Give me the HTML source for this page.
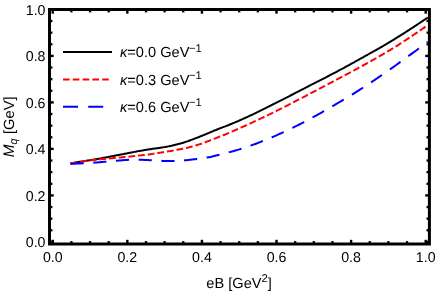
<!DOCTYPE html>
<html><head><meta charset="utf-8"><style>
html,body{margin:0;padding:0;background:#fff;}
svg{display:block;will-change:transform;text-rendering:geometricPrecision;font-family:"Liberation Sans",sans-serif;font-size:14.2px;fill:#000;}
</style></head><body>
<svg width="436" height="292" viewBox="0 0 436 292">
<rect width="436" height="292" fill="#fff"/>
<g fill="none" stroke-width="2">
<path d="M70.50 163.40 C70.83 163.34 71.83 163.17 72.50 163.05 C73.17 162.93 73.83 162.82 74.50 162.70 C75.17 162.59 75.83 162.48 76.50 162.36 C77.17 162.25 77.83 162.14 78.50 162.03 C79.17 161.91 79.83 161.80 80.50 161.69 C81.17 161.58 81.83 161.47 82.50 161.37 C83.17 161.26 83.83 161.15 84.50 161.04 C85.17 160.94 85.83 160.84 86.50 160.74 C87.17 160.63 87.83 160.53 88.50 160.43 C89.17 160.33 89.83 160.23 90.50 160.13 C91.17 160.02 91.83 159.92 92.50 159.81 C93.17 159.70 93.83 159.60 94.50 159.48 C95.17 159.37 95.83 159.26 96.50 159.14 C97.17 159.02 97.83 158.90 98.50 158.78 C99.17 158.66 99.83 158.54 100.50 158.41 C101.17 158.29 101.83 158.16 102.50 158.04 C103.17 157.91 103.83 157.79 104.50 157.66 C105.17 157.54 105.83 157.41 106.50 157.29 C107.17 157.16 107.83 157.03 108.50 156.91 C109.17 156.78 109.83 156.65 110.50 156.52 C111.17 156.39 111.83 156.26 112.50 156.13 C113.17 156.00 113.83 155.87 114.50 155.74 C115.17 155.61 115.83 155.48 116.50 155.35 C117.17 155.23 117.83 155.10 118.50 154.97 C119.17 154.85 119.83 154.72 120.50 154.60 C121.17 154.47 121.83 154.35 122.50 154.23 C123.17 154.10 123.83 153.97 124.50 153.85 C125.17 153.72 125.83 153.59 126.50 153.45 C127.17 153.32 127.83 153.19 128.50 153.05 C129.17 152.92 129.83 152.78 130.50 152.65 C131.17 152.51 131.83 152.38 132.50 152.25 C133.17 152.12 133.83 151.99 134.50 151.87 C135.17 151.74 135.83 151.62 136.50 151.50 C137.17 151.38 137.83 151.26 138.50 151.13 C139.17 151.01 139.83 150.90 140.50 150.78 C141.17 150.66 141.83 150.54 142.50 150.43 C143.17 150.31 143.83 150.20 144.50 150.09 C145.17 149.98 145.83 149.87 146.50 149.76 C147.17 149.65 147.83 149.55 148.50 149.44 C149.17 149.34 149.83 149.24 150.50 149.14 C151.17 149.05 151.83 148.95 152.50 148.86 C153.17 148.76 153.83 148.67 154.50 148.57 C155.17 148.48 155.83 148.39 156.50 148.30 C157.17 148.20 157.83 148.11 158.50 148.01 C159.17 147.92 159.83 147.82 160.50 147.72 C161.17 147.62 161.83 147.52 162.50 147.42 C163.17 147.32 163.83 147.23 164.50 147.12 C165.17 147.02 165.83 146.91 166.50 146.79 C167.17 146.67 167.83 146.54 168.50 146.39 C169.17 146.25 169.83 146.09 170.50 145.93 C171.17 145.77 171.83 145.59 172.50 145.43 C173.17 145.26 173.83 145.09 174.50 144.92 C175.17 144.76 175.83 144.60 176.50 144.44 C177.17 144.28 177.83 144.13 178.50 143.97 C179.17 143.81 179.83 143.65 180.50 143.48 C181.17 143.30 181.83 143.12 182.50 142.93 C183.17 142.73 183.83 142.52 184.50 142.31 C185.17 142.10 185.83 141.87 186.50 141.65 C187.17 141.42 187.83 141.19 188.50 140.95 C189.17 140.72 189.83 140.49 190.50 140.24 C191.17 140.00 191.83 139.75 192.50 139.50 C193.17 139.25 193.83 139.00 194.50 138.74 C195.17 138.49 195.83 138.23 196.50 137.97 C197.17 137.72 197.83 137.46 198.50 137.20 C199.17 136.93 199.83 136.67 200.50 136.40 C201.17 136.14 201.83 135.87 202.50 135.60 C203.17 135.33 203.83 135.05 204.50 134.78 C205.17 134.50 205.83 134.22 206.50 133.94 C207.17 133.65 207.83 133.37 208.50 133.08 C209.17 132.80 209.83 132.51 210.50 132.23 C211.17 131.94 211.83 131.66 212.50 131.37 C213.17 131.09 213.83 130.81 214.50 130.54 C215.17 130.26 215.83 129.99 216.50 129.72 C217.17 129.45 217.83 129.19 218.50 128.93 C219.17 128.67 219.83 128.42 220.50 128.16 C221.17 127.91 221.83 127.66 222.50 127.41 C223.17 127.16 223.83 126.91 224.50 126.65 C225.17 126.40 225.83 126.15 226.50 125.89 C227.17 125.63 227.83 125.37 228.50 125.11 C229.17 124.84 229.83 124.57 230.50 124.29 C231.17 124.02 231.83 123.74 232.50 123.46 C233.17 123.19 233.83 122.90 234.50 122.62 C235.17 122.34 235.83 122.05 236.50 121.77 C237.17 121.48 237.83 121.19 238.50 120.90 C239.17 120.61 239.83 120.31 240.50 120.02 C241.17 119.72 241.83 119.43 242.50 119.13 C243.17 118.83 243.83 118.53 244.50 118.23 C245.17 117.93 245.83 117.62 246.50 117.32 C247.17 117.02 247.83 116.71 248.50 116.40 C249.17 116.10 249.83 115.79 250.50 115.48 C251.17 115.17 251.83 114.85 252.50 114.54 C253.17 114.22 253.83 113.90 254.50 113.58 C255.17 113.26 255.83 112.94 256.50 112.62 C257.17 112.29 257.83 111.97 258.50 111.64 C259.17 111.31 259.83 110.98 260.50 110.65 C261.17 110.32 261.83 109.99 262.50 109.66 C263.17 109.32 263.83 108.99 264.50 108.66 C265.17 108.32 265.83 107.99 266.50 107.66 C267.17 107.32 267.83 106.99 268.50 106.65 C269.17 106.32 269.83 105.99 270.50 105.65 C271.17 105.32 271.83 104.99 272.50 104.65 C273.17 104.32 273.83 103.99 274.50 103.65 C275.17 103.31 275.83 102.98 276.50 102.64 C277.17 102.30 277.83 101.97 278.50 101.63 C279.17 101.29 279.83 100.95 280.50 100.61 C281.17 100.28 281.83 99.94 282.50 99.60 C283.17 99.26 283.83 98.92 284.50 98.58 C285.17 98.24 285.83 97.90 286.50 97.55 C287.17 97.21 287.83 96.87 288.50 96.53 C289.17 96.19 289.83 95.85 290.50 95.51 C291.17 95.17 291.83 94.83 292.50 94.49 C293.17 94.14 293.83 93.80 294.50 93.46 C295.17 93.12 295.83 92.77 296.50 92.43 C297.17 92.08 297.83 91.74 298.50 91.40 C299.17 91.05 299.83 90.71 300.50 90.36 C301.17 90.02 301.83 89.68 302.50 89.33 C303.17 88.99 303.83 88.64 304.50 88.30 C305.17 87.95 305.83 87.61 306.50 87.27 C307.17 86.92 307.83 86.58 308.50 86.23 C309.17 85.89 309.83 85.55 310.50 85.20 C311.17 84.86 311.83 84.52 312.50 84.18 C313.17 83.83 313.83 83.49 314.50 83.15 C315.17 82.81 315.83 82.47 316.50 82.13 C317.17 81.79 317.83 81.45 318.50 81.11 C319.17 80.77 319.83 80.43 320.50 80.09 C321.17 79.75 321.83 79.41 322.50 79.07 C323.17 78.73 323.83 78.39 324.50 78.05 C325.17 77.71 325.83 77.36 326.50 77.02 C327.17 76.68 327.83 76.34 328.50 75.99 C329.17 75.65 329.83 75.30 330.50 74.96 C331.17 74.61 331.83 74.26 332.50 73.91 C333.17 73.57 333.83 73.22 334.50 72.86 C335.17 72.51 335.83 72.16 336.50 71.81 C337.17 71.45 337.83 71.10 338.50 70.74 C339.17 70.39 339.83 70.03 340.50 69.67 C341.17 69.31 341.83 68.95 342.50 68.60 C343.17 68.24 343.83 67.87 344.50 67.51 C345.17 67.15 345.83 66.79 346.50 66.43 C347.17 66.06 347.83 65.70 348.50 65.33 C349.17 64.97 349.83 64.60 350.50 64.24 C351.17 63.87 351.83 63.50 352.50 63.14 C353.17 62.77 353.83 62.40 354.50 62.03 C355.17 61.67 355.83 61.30 356.50 60.93 C357.17 60.56 357.83 60.19 358.50 59.82 C359.17 59.45 359.83 59.08 360.50 58.70 C361.17 58.33 361.83 57.96 362.50 57.59 C363.17 57.22 363.83 56.85 364.50 56.48 C365.17 56.11 365.83 55.74 366.50 55.37 C367.17 55.00 367.83 54.62 368.50 54.25 C369.17 53.88 369.83 53.51 370.50 53.14 C371.17 52.76 371.83 52.39 372.50 52.02 C373.17 51.64 373.83 51.27 374.50 50.89 C375.17 50.51 375.83 50.14 376.50 49.76 C377.17 49.38 377.83 49.00 378.50 48.62 C379.17 48.24 379.83 47.86 380.50 47.48 C381.17 47.09 381.83 46.71 382.50 46.33 C383.17 45.94 383.83 45.55 384.50 45.16 C385.17 44.77 385.83 44.38 386.50 43.99 C387.17 43.60 387.83 43.20 388.50 42.81 C389.17 42.41 389.83 42.01 390.50 41.61 C391.17 41.21 391.83 40.81 392.50 40.40 C393.17 39.99 393.83 39.59 394.50 39.18 C395.17 38.76 395.83 38.35 396.50 37.94 C397.17 37.52 397.83 37.10 398.50 36.69 C399.17 36.27 399.83 35.85 400.50 35.43 C401.17 35.00 401.83 34.58 402.50 34.16 C403.17 33.73 403.83 33.30 404.50 32.88 C405.17 32.45 405.83 32.02 406.50 31.59 C407.17 31.17 407.83 30.74 408.50 30.31 C409.17 29.88 409.83 29.45 410.50 29.01 C411.17 28.58 411.83 28.15 412.50 27.72 C413.17 27.28 413.83 26.85 414.50 26.41 C415.17 25.97 415.83 25.54 416.50 25.10 C417.17 24.66 417.83 24.22 418.50 23.77 C419.17 23.33 419.83 22.89 420.50 22.44 C421.17 22.00 421.83 21.55 422.50 21.11 C423.17 20.66 423.83 20.21 424.50 19.76 C425.17 19.31 425.95 18.78 426.50 18.41 C427.05 18.04 427.58 17.67 427.80 17.53" stroke="#000"/>
<path d="M70.50 163.40 C70.83 163.34 71.83 163.16 72.50 163.04 C73.17 162.92 73.83 162.80 74.50 162.69 C75.17 162.57 75.83 162.46 76.50 162.35 C77.17 162.24 77.83 162.13 78.50 162.03 C79.17 161.92 79.83 161.82 80.50 161.72 C81.17 161.62 81.83 161.52 82.50 161.43 C83.17 161.33 83.83 161.24 84.50 161.15 C85.17 161.06 85.83 160.97 86.50 160.88 C87.17 160.79 87.83 160.71 88.50 160.62 C89.17 160.54 89.83 160.46 90.50 160.38 C91.17 160.29 91.83 160.22 92.50 160.14 C93.17 160.06 93.83 159.98 94.50 159.91 C95.17 159.83 95.83 159.76 96.50 159.69 C97.17 159.62 97.83 159.55 98.50 159.48 C99.17 159.42 99.83 159.35 100.50 159.28 C101.17 159.22 101.83 159.16 102.50 159.09 C103.17 159.03 103.83 158.97 104.50 158.90 C105.17 158.84 105.83 158.78 106.50 158.72 C107.17 158.65 107.83 158.59 108.50 158.53 C109.17 158.47 109.83 158.40 110.50 158.34 C111.17 158.28 111.83 158.21 112.50 158.15 C113.17 158.09 113.83 158.03 114.50 157.97 C115.17 157.91 115.83 157.85 116.50 157.79 C117.17 157.73 117.83 157.67 118.50 157.60 C119.17 157.54 119.83 157.48 120.50 157.42 C121.17 157.36 121.83 157.30 122.50 157.23 C123.17 157.17 123.83 157.10 124.50 157.04 C125.17 156.97 125.83 156.90 126.50 156.83 C127.17 156.77 127.83 156.70 128.50 156.63 C129.17 156.57 129.83 156.50 130.50 156.43 C131.17 156.36 131.83 156.29 132.50 156.23 C133.17 156.16 133.83 156.09 134.50 156.02 C135.17 155.95 135.83 155.88 136.50 155.81 C137.17 155.73 137.83 155.66 138.50 155.59 C139.17 155.52 139.83 155.44 140.50 155.37 C141.17 155.29 141.83 155.22 142.50 155.14 C143.17 155.06 143.83 154.99 144.50 154.91 C145.17 154.83 145.83 154.75 146.50 154.66 C147.17 154.58 147.83 154.50 148.50 154.41 C149.17 154.33 149.83 154.24 150.50 154.15 C151.17 154.06 151.83 153.97 152.50 153.88 C153.17 153.78 153.83 153.68 154.50 153.58 C155.17 153.48 155.83 153.37 156.50 153.27 C157.17 153.16 157.83 153.05 158.50 152.95 C159.17 152.84 159.83 152.73 160.50 152.62 C161.17 152.51 161.83 152.40 162.50 152.29 C163.17 152.19 163.83 152.08 164.50 151.97 C165.17 151.86 165.83 151.75 166.50 151.64 C167.17 151.53 167.83 151.42 168.50 151.31 C169.17 151.19 169.83 151.08 170.50 150.96 C171.17 150.85 171.83 150.73 172.50 150.61 C173.17 150.50 173.83 150.38 174.50 150.25 C175.17 150.13 175.83 150.01 176.50 149.89 C177.17 149.76 177.83 149.64 178.50 149.52 C179.17 149.40 179.83 149.27 180.50 149.15 C181.17 149.02 181.83 148.90 182.50 148.77 C183.17 148.64 183.83 148.51 184.50 148.37 C185.17 148.23 185.83 148.09 186.50 147.95 C187.17 147.80 187.83 147.65 188.50 147.49 C189.17 147.34 189.83 147.17 190.50 147.00 C191.17 146.83 191.83 146.65 192.50 146.47 C193.17 146.28 193.83 146.09 194.50 145.89 C195.17 145.69 195.83 145.48 196.50 145.27 C197.17 145.06 197.83 144.84 198.50 144.62 C199.17 144.40 199.83 144.17 200.50 143.94 C201.17 143.70 201.83 143.47 202.50 143.23 C203.17 142.99 203.83 142.74 204.50 142.50 C205.17 142.25 205.83 142.00 206.50 141.75 C207.17 141.50 207.83 141.25 208.50 140.99 C209.17 140.74 209.83 140.48 210.50 140.23 C211.17 139.97 211.83 139.71 212.50 139.46 C213.17 139.20 213.83 138.95 214.50 138.69 C215.17 138.44 215.83 138.19 216.50 137.93 C217.17 137.67 217.83 137.42 218.50 137.16 C219.17 136.90 219.83 136.63 220.50 136.36 C221.17 136.10 221.83 135.83 222.50 135.55 C223.17 135.28 223.83 135.01 224.50 134.73 C225.17 134.45 225.83 134.17 226.50 133.89 C227.17 133.61 227.83 133.33 228.50 133.05 C229.17 132.76 229.83 132.48 230.50 132.19 C231.17 131.91 231.83 131.62 232.50 131.33 C233.17 131.04 233.83 130.75 234.50 130.46 C235.17 130.17 235.83 129.88 236.50 129.59 C237.17 129.30 237.83 129.01 238.50 128.71 C239.17 128.42 239.83 128.13 240.50 127.83 C241.17 127.53 241.83 127.24 242.50 126.94 C243.17 126.64 243.83 126.34 244.50 126.04 C245.17 125.74 245.83 125.44 246.50 125.14 C247.17 124.84 247.83 124.53 248.50 124.23 C249.17 123.92 249.83 123.62 250.50 123.31 C251.17 123.01 251.83 122.70 252.50 122.39 C253.17 122.08 253.83 121.77 254.50 121.46 C255.17 121.15 255.83 120.84 256.50 120.53 C257.17 120.22 257.83 119.91 258.50 119.59 C259.17 119.28 259.83 118.96 260.50 118.65 C261.17 118.33 261.83 118.02 262.50 117.70 C263.17 117.39 263.83 117.07 264.50 116.75 C265.17 116.43 265.83 116.11 266.50 115.79 C267.17 115.47 267.83 115.15 268.50 114.83 C269.17 114.51 269.83 114.19 270.50 113.87 C271.17 113.54 271.83 113.22 272.50 112.90 C273.17 112.57 273.83 112.24 274.50 111.91 C275.17 111.58 275.83 111.25 276.50 110.92 C277.17 110.59 277.83 110.25 278.50 109.92 C279.17 109.58 279.83 109.24 280.50 108.91 C281.17 108.57 281.83 108.23 282.50 107.89 C283.17 107.55 283.83 107.21 284.50 106.87 C285.17 106.53 285.83 106.19 286.50 105.85 C287.17 105.51 287.83 105.17 288.50 104.83 C289.17 104.48 289.83 104.14 290.50 103.80 C291.17 103.46 291.83 103.12 292.50 102.78 C293.17 102.43 293.83 102.09 294.50 101.75 C295.17 101.40 295.83 101.06 296.50 100.71 C297.17 100.36 297.83 100.02 298.50 99.67 C299.17 99.33 299.83 98.98 300.50 98.63 C301.17 98.28 301.83 97.94 302.50 97.59 C303.17 97.24 303.83 96.89 304.50 96.54 C305.17 96.20 305.83 95.85 306.50 95.50 C307.17 95.15 307.83 94.80 308.50 94.45 C309.17 94.10 309.83 93.76 310.50 93.41 C311.17 93.06 311.83 92.71 312.50 92.36 C313.17 92.01 313.83 91.66 314.50 91.31 C315.17 90.96 315.83 90.61 316.50 90.26 C317.17 89.91 317.83 89.56 318.50 89.21 C319.17 88.86 319.83 88.51 320.50 88.16 C321.17 87.81 321.83 87.46 322.50 87.11 C323.17 86.76 323.83 86.41 324.50 86.06 C325.17 85.71 325.83 85.36 326.50 85.00 C327.17 84.65 327.83 84.30 328.50 83.95 C329.17 83.60 329.83 83.24 330.50 82.89 C331.17 82.54 331.83 82.18 332.50 81.83 C333.17 81.48 333.83 81.13 334.50 80.77 C335.17 80.42 335.83 80.06 336.50 79.71 C337.17 79.36 337.83 79.00 338.50 78.65 C339.17 78.30 339.83 77.94 340.50 77.59 C341.17 77.24 341.83 76.89 342.50 76.53 C343.17 76.18 343.83 75.83 344.50 75.47 C345.17 75.12 345.83 74.77 346.50 74.41 C347.17 74.06 347.83 73.70 348.50 73.35 C349.17 72.99 349.83 72.64 350.50 72.28 C351.17 71.93 351.83 71.57 352.50 71.21 C353.17 70.85 353.83 70.49 354.50 70.13 C355.17 69.77 355.83 69.41 356.50 69.05 C357.17 68.69 357.83 68.32 358.50 67.96 C359.17 67.59 359.83 67.23 360.50 66.86 C361.17 66.49 361.83 66.13 362.50 65.76 C363.17 65.39 363.83 65.02 364.50 64.65 C365.17 64.29 365.83 63.92 366.50 63.55 C367.17 63.18 367.83 62.81 368.50 62.44 C369.17 62.07 369.83 61.70 370.50 61.33 C371.17 60.95 371.83 60.58 372.50 60.21 C373.17 59.83 373.83 59.46 374.50 59.08 C375.17 58.71 375.83 58.33 376.50 57.95 C377.17 57.57 377.83 57.19 378.50 56.81 C379.17 56.43 379.83 56.05 380.50 55.66 C381.17 55.28 381.83 54.90 382.50 54.51 C383.17 54.12 383.83 53.73 384.50 53.34 C385.17 52.95 385.83 52.56 386.50 52.16 C387.17 51.77 387.83 51.37 388.50 50.97 C389.17 50.57 389.83 50.17 390.50 49.77 C391.17 49.36 391.83 48.96 392.50 48.55 C393.17 48.14 393.83 47.73 394.50 47.31 C395.17 46.90 395.83 46.48 396.50 46.06 C397.17 45.65 397.83 45.22 398.50 44.80 C399.17 44.38 399.83 43.95 400.50 43.53 C401.17 43.10 401.83 42.67 402.50 42.24 C403.17 41.81 403.83 41.38 404.50 40.94 C405.17 40.51 405.83 40.07 406.50 39.63 C407.17 39.20 407.83 38.76 408.50 38.32 C409.17 37.88 409.83 37.43 410.50 36.99 C411.17 36.55 411.83 36.10 412.50 35.65 C413.17 35.21 413.83 34.76 414.50 34.30 C415.17 33.85 415.83 33.40 416.50 32.94 C417.17 32.49 417.83 32.03 418.50 31.57 C419.17 31.11 419.83 30.65 420.50 30.18 C421.17 29.72 421.83 29.25 422.50 28.79 C423.17 28.32 423.83 27.85 424.50 27.38 C425.17 26.91 425.95 26.35 426.50 25.96 C427.05 25.57 427.58 25.18 427.80 25.03" stroke="#f00" stroke-dasharray="6.8 2.92"/>
<path d="M70.50 163.80 C70.83 163.79 71.83 163.76 72.50 163.74 C73.17 163.72 73.83 163.69 74.50 163.67 C75.17 163.64 75.83 163.62 76.50 163.59 C77.17 163.56 77.83 163.54 78.50 163.51 C79.17 163.48 79.83 163.45 80.50 163.42 C81.17 163.39 81.83 163.36 82.50 163.32 C83.17 163.29 83.83 163.26 84.50 163.23 C85.17 163.19 85.83 163.16 86.50 163.12 C87.17 163.08 87.83 163.04 88.50 163.00 C89.17 162.96 89.83 162.92 90.50 162.88 C91.17 162.83 91.83 162.79 92.50 162.74 C93.17 162.70 93.83 162.65 94.50 162.60 C95.17 162.55 95.83 162.51 96.50 162.46 C97.17 162.41 97.83 162.36 98.50 162.31 C99.17 162.26 99.83 162.21 100.50 162.16 C101.17 162.11 101.83 162.06 102.50 162.01 C103.17 161.96 103.83 161.91 104.50 161.85 C105.17 161.80 105.83 161.75 106.50 161.69 C107.17 161.64 107.83 161.58 108.50 161.53 C109.17 161.47 109.83 161.42 110.50 161.36 C111.17 161.30 111.83 161.24 112.50 161.18 C113.17 161.12 113.83 161.05 114.50 160.99 C115.17 160.93 115.83 160.86 116.50 160.80 C117.17 160.74 117.83 160.68 118.50 160.62 C119.17 160.57 119.83 160.52 120.50 160.46 C121.17 160.40 121.83 160.34 122.50 160.28 C123.17 160.22 123.83 160.15 124.50 160.10 C125.17 160.04 125.83 159.98 126.50 159.93 C127.17 159.89 127.83 159.85 128.50 159.83 C129.17 159.81 129.83 159.80 130.50 159.80 C131.17 159.80 131.83 159.80 132.50 159.80 C133.17 159.80 133.83 159.80 134.50 159.80 C135.17 159.80 135.83 159.80 136.50 159.80 C137.17 159.80 137.83 159.80 138.50 159.80 C139.17 159.80 139.83 159.80 140.50 159.80 C141.17 159.81 141.83 159.82 142.50 159.84 C143.17 159.86 143.83 159.89 144.50 159.92 C145.17 159.95 145.83 159.98 146.50 160.02 C147.17 160.05 147.83 160.09 148.50 160.12 C149.17 160.16 149.83 160.19 150.50 160.23 C151.17 160.26 151.83 160.30 152.50 160.34 C153.17 160.38 153.83 160.43 154.50 160.48 C155.17 160.52 155.83 160.57 156.50 160.61 C157.17 160.65 157.83 160.69 158.50 160.73 C159.17 160.76 159.83 160.79 160.50 160.82 C161.17 160.85 161.83 160.88 162.50 160.90 C163.17 160.93 163.83 160.96 164.50 160.98 C165.17 161.01 165.83 161.03 166.50 161.05 C167.17 161.07 167.83 161.08 168.50 161.09 C169.17 161.10 169.83 161.10 170.50 161.10 C171.17 161.10 171.83 161.09 172.50 161.07 C173.17 161.06 173.83 161.04 174.50 161.02 C175.17 161.01 175.83 160.98 176.50 160.96 C177.17 160.93 177.83 160.91 178.50 160.88 C179.17 160.84 179.83 160.79 180.50 160.74 C181.17 160.68 181.83 160.62 182.50 160.55 C183.17 160.49 183.83 160.41 184.50 160.35 C185.17 160.28 185.83 160.22 186.50 160.15 C187.17 160.09 187.83 160.02 188.50 159.95 C189.17 159.88 189.83 159.81 190.50 159.73 C191.17 159.66 191.83 159.58 192.50 159.50 C193.17 159.43 193.83 159.34 194.50 159.26 C195.17 159.18 195.83 159.10 196.50 159.01 C197.17 158.93 197.83 158.85 198.50 158.76 C199.17 158.67 199.83 158.59 200.50 158.50 C201.17 158.41 201.83 158.31 202.50 158.22 C203.17 158.12 203.83 158.02 204.50 157.92 C205.17 157.82 205.83 157.72 206.50 157.61 C207.17 157.50 207.83 157.39 208.50 157.27 C209.17 157.15 209.83 157.04 210.50 156.90 C211.17 156.77 211.83 156.63 212.50 156.48 C213.17 156.33 213.83 156.16 214.50 155.99 C215.17 155.83 215.83 155.65 216.50 155.47 C217.17 155.30 217.83 155.12 218.50 154.94 C219.17 154.76 219.83 154.58 220.50 154.40 C221.17 154.23 221.83 154.06 222.50 153.89 C223.17 153.72 223.83 153.55 224.50 153.39 C225.17 153.22 225.83 153.06 226.50 152.89 C227.17 152.72 227.83 152.56 228.50 152.39 C229.17 152.22 229.83 152.05 230.50 151.88 C231.17 151.71 231.83 151.53 232.50 151.35 C233.17 151.18 233.83 150.99 234.50 150.81 C235.17 150.62 235.83 150.43 236.50 150.23 C237.17 150.04 237.83 149.84 238.50 149.63 C239.17 149.43 239.83 149.23 240.50 149.02 C241.17 148.81 241.83 148.60 242.50 148.38 C243.17 148.17 243.83 147.95 244.50 147.73 C245.17 147.51 245.83 147.29 246.50 147.06 C247.17 146.84 247.83 146.61 248.50 146.38 C249.17 146.15 249.83 145.92 250.50 145.68 C251.17 145.45 251.83 145.21 252.50 144.97 C253.17 144.73 253.83 144.48 254.50 144.23 C255.17 143.99 255.83 143.74 256.50 143.48 C257.17 143.23 257.83 142.97 258.50 142.72 C259.17 142.46 259.83 142.20 260.50 141.94 C261.17 141.67 261.83 141.41 262.50 141.14 C263.17 140.88 263.83 140.61 264.50 140.34 C265.17 140.07 265.83 139.79 266.50 139.52 C267.17 139.25 267.83 138.97 268.50 138.69 C269.17 138.42 269.83 138.14 270.50 137.86 C271.17 137.58 271.83 137.30 272.50 137.02 C273.17 136.74 273.83 136.45 274.50 136.16 C275.17 135.88 275.83 135.59 276.50 135.29 C277.17 135.00 277.83 134.71 278.50 134.41 C279.17 134.11 279.83 133.82 280.50 133.51 C281.17 133.21 281.83 132.91 282.50 132.61 C283.17 132.30 283.83 131.99 284.50 131.68 C285.17 131.38 285.83 131.06 286.50 130.75 C287.17 130.44 287.83 130.12 288.50 129.81 C289.17 129.49 289.83 129.17 290.50 128.85 C291.17 128.53 291.83 128.21 292.50 127.88 C293.17 127.56 293.83 127.23 294.50 126.90 C295.17 126.57 295.83 126.23 296.50 125.90 C297.17 125.56 297.83 125.22 298.50 124.88 C299.17 124.55 299.83 124.20 300.50 123.86 C301.17 123.52 301.83 123.17 302.50 122.82 C303.17 122.48 303.83 122.13 304.50 121.78 C305.17 121.43 305.83 121.08 306.50 120.72 C307.17 120.37 307.83 120.02 308.50 119.66 C309.17 119.30 309.83 118.95 310.50 118.59 C311.17 118.23 311.83 117.87 312.50 117.51 C313.17 117.15 313.83 116.79 314.50 116.42 C315.17 116.05 315.83 115.69 316.50 115.32 C317.17 114.95 317.83 114.58 318.50 114.21 C319.17 113.84 319.83 113.47 320.50 113.09 C321.17 112.72 321.83 112.34 322.50 111.96 C323.17 111.59 323.83 111.21 324.50 110.83 C325.17 110.45 325.83 110.07 326.50 109.69 C327.17 109.31 327.83 108.92 328.50 108.54 C329.17 108.16 329.83 107.77 330.50 107.38 C331.17 107.00 331.83 106.61 332.50 106.22 C333.17 105.84 333.83 105.45 334.50 105.06 C335.17 104.67 335.83 104.28 336.50 103.89 C337.17 103.50 337.83 103.11 338.50 102.71 C339.17 102.32 339.83 101.93 340.50 101.53 C341.17 101.14 341.83 100.74 342.50 100.35 C343.17 99.95 343.83 99.55 344.50 99.16 C345.17 98.76 345.83 98.36 346.50 97.95 C347.17 97.55 347.83 97.15 348.50 96.75 C349.17 96.34 349.83 95.94 350.50 95.53 C351.17 95.12 351.83 94.71 352.50 94.30 C353.17 93.89 353.83 93.48 354.50 93.06 C355.17 92.65 355.83 92.23 356.50 91.82 C357.17 91.40 357.83 90.98 358.50 90.56 C359.17 90.13 359.83 89.71 360.50 89.28 C361.17 88.86 361.83 88.43 362.50 88.00 C363.17 87.57 363.83 87.14 364.50 86.70 C365.17 86.27 365.83 85.83 366.50 85.39 C367.17 84.96 367.83 84.52 368.50 84.08 C369.17 83.63 369.83 83.19 370.50 82.75 C371.17 82.30 371.83 81.86 372.50 81.41 C373.17 80.96 373.83 80.51 374.50 80.06 C375.17 79.61 375.83 79.16 376.50 78.71 C377.17 78.25 377.83 77.80 378.50 77.34 C379.17 76.89 379.83 76.43 380.50 75.97 C381.17 75.51 381.83 75.06 382.50 74.60 C383.17 74.14 383.83 73.67 384.50 73.21 C385.17 72.75 385.83 72.29 386.50 71.83 C387.17 71.36 387.83 70.90 388.50 70.44 C389.17 69.97 389.83 69.51 390.50 69.04 C391.17 68.57 391.83 68.10 392.50 67.63 C393.17 67.16 393.83 66.69 394.50 66.21 C395.17 65.74 395.83 65.26 396.50 64.78 C397.17 64.31 397.83 63.83 398.50 63.35 C399.17 62.86 399.83 62.38 400.50 61.90 C401.17 61.42 401.83 60.93 402.50 60.45 C403.17 59.96 403.83 59.48 404.50 58.99 C405.17 58.50 405.83 58.02 406.50 57.53 C407.17 57.04 407.83 56.56 408.50 56.07 C409.17 55.59 409.83 55.10 410.50 54.61 C411.17 54.13 411.83 53.64 412.50 53.15 C413.17 52.66 413.83 52.18 414.50 51.69 C415.17 51.20 415.83 50.71 416.50 50.22 C417.17 49.73 417.83 49.24 418.50 48.75 C419.17 48.26 419.83 47.76 420.50 47.27 C421.17 46.78 421.83 46.29 422.50 45.79 C423.17 45.30 423.83 44.80 424.50 44.31 C425.17 43.82 425.95 43.23 426.50 42.82 C427.05 42.41 427.58 42.02 427.80 41.86" stroke="#00f" stroke-dasharray="13.2 9.55"/>
</g>
<g stroke="#000"><line x1="52.75" y1="244.0" x2="52.75" y2="239.80" stroke-width="2.4"/><line x1="52.75" y1="9.5" x2="52.75" y2="13.70" stroke-width="2.4"/><line x1="49.5" y1="241.90" x2="53.70" y2="241.90" stroke-width="2.4"/><line x1="429.4" y1="241.90" x2="425.20" y2="241.90" stroke-width="2.4"/><line x1="71.40" y1="244.0" x2="71.40" y2="241.10" stroke-width="2.3"/><line x1="71.40" y1="9.5" x2="71.40" y2="12.40" stroke-width="2.3"/><line x1="49.5" y1="230.28" x2="52.40" y2="230.28" stroke-width="2.3"/><line x1="429.4" y1="230.28" x2="426.50" y2="230.28" stroke-width="2.3"/><line x1="90.05" y1="244.0" x2="90.05" y2="241.10" stroke-width="2.3"/><line x1="90.05" y1="9.5" x2="90.05" y2="12.40" stroke-width="2.3"/><line x1="49.5" y1="218.65" x2="52.40" y2="218.65" stroke-width="2.3"/><line x1="429.4" y1="218.65" x2="426.50" y2="218.65" stroke-width="2.3"/><line x1="108.69" y1="244.0" x2="108.69" y2="241.10" stroke-width="2.3"/><line x1="108.69" y1="9.5" x2="108.69" y2="12.40" stroke-width="2.3"/><line x1="49.5" y1="207.03" x2="52.40" y2="207.03" stroke-width="2.3"/><line x1="429.4" y1="207.03" x2="426.50" y2="207.03" stroke-width="2.3"/><line x1="127.34" y1="244.0" x2="127.34" y2="239.80" stroke-width="2.4"/><line x1="127.34" y1="9.5" x2="127.34" y2="13.70" stroke-width="2.4"/><line x1="49.5" y1="195.40" x2="53.70" y2="195.40" stroke-width="2.4"/><line x1="429.4" y1="195.40" x2="425.20" y2="195.40" stroke-width="2.4"/><line x1="145.99" y1="244.0" x2="145.99" y2="241.10" stroke-width="2.3"/><line x1="145.99" y1="9.5" x2="145.99" y2="12.40" stroke-width="2.3"/><line x1="49.5" y1="183.78" x2="52.40" y2="183.78" stroke-width="2.3"/><line x1="429.4" y1="183.78" x2="426.50" y2="183.78" stroke-width="2.3"/><line x1="164.63" y1="244.0" x2="164.63" y2="241.10" stroke-width="2.3"/><line x1="164.63" y1="9.5" x2="164.63" y2="12.40" stroke-width="2.3"/><line x1="49.5" y1="172.15" x2="52.40" y2="172.15" stroke-width="2.3"/><line x1="429.4" y1="172.15" x2="426.50" y2="172.15" stroke-width="2.3"/><line x1="183.28" y1="244.0" x2="183.28" y2="241.10" stroke-width="2.3"/><line x1="183.28" y1="9.5" x2="183.28" y2="12.40" stroke-width="2.3"/><line x1="49.5" y1="160.53" x2="52.40" y2="160.53" stroke-width="2.3"/><line x1="429.4" y1="160.53" x2="426.50" y2="160.53" stroke-width="2.3"/><line x1="201.93" y1="244.0" x2="201.93" y2="239.80" stroke-width="2.4"/><line x1="201.93" y1="9.5" x2="201.93" y2="13.70" stroke-width="2.4"/><line x1="49.5" y1="148.90" x2="53.70" y2="148.90" stroke-width="2.4"/><line x1="429.4" y1="148.90" x2="425.20" y2="148.90" stroke-width="2.4"/><line x1="220.58" y1="244.0" x2="220.58" y2="241.10" stroke-width="2.3"/><line x1="220.58" y1="9.5" x2="220.58" y2="12.40" stroke-width="2.3"/><line x1="49.5" y1="137.28" x2="52.40" y2="137.28" stroke-width="2.3"/><line x1="429.4" y1="137.28" x2="426.50" y2="137.28" stroke-width="2.3"/><line x1="239.22" y1="244.0" x2="239.22" y2="241.10" stroke-width="2.3"/><line x1="239.22" y1="9.5" x2="239.22" y2="12.40" stroke-width="2.3"/><line x1="49.5" y1="125.65" x2="52.40" y2="125.65" stroke-width="2.3"/><line x1="429.4" y1="125.65" x2="426.50" y2="125.65" stroke-width="2.3"/><line x1="257.87" y1="244.0" x2="257.87" y2="241.10" stroke-width="2.3"/><line x1="257.87" y1="9.5" x2="257.87" y2="12.40" stroke-width="2.3"/><line x1="49.5" y1="114.02" x2="52.40" y2="114.02" stroke-width="2.3"/><line x1="429.4" y1="114.02" x2="426.50" y2="114.02" stroke-width="2.3"/><line x1="276.52" y1="244.0" x2="276.52" y2="239.80" stroke-width="2.4"/><line x1="276.52" y1="9.5" x2="276.52" y2="13.70" stroke-width="2.4"/><line x1="49.5" y1="102.40" x2="53.70" y2="102.40" stroke-width="2.4"/><line x1="429.4" y1="102.40" x2="425.20" y2="102.40" stroke-width="2.4"/><line x1="295.17" y1="244.0" x2="295.17" y2="241.10" stroke-width="2.3"/><line x1="295.17" y1="9.5" x2="295.17" y2="12.40" stroke-width="2.3"/><line x1="49.5" y1="90.78" x2="52.40" y2="90.78" stroke-width="2.3"/><line x1="429.4" y1="90.78" x2="426.50" y2="90.78" stroke-width="2.3"/><line x1="313.81" y1="244.0" x2="313.81" y2="241.10" stroke-width="2.3"/><line x1="313.81" y1="9.5" x2="313.81" y2="12.40" stroke-width="2.3"/><line x1="49.5" y1="79.15" x2="52.40" y2="79.15" stroke-width="2.3"/><line x1="429.4" y1="79.15" x2="426.50" y2="79.15" stroke-width="2.3"/><line x1="332.46" y1="244.0" x2="332.46" y2="241.10" stroke-width="2.3"/><line x1="332.46" y1="9.5" x2="332.46" y2="12.40" stroke-width="2.3"/><line x1="49.5" y1="67.53" x2="52.40" y2="67.53" stroke-width="2.3"/><line x1="429.4" y1="67.53" x2="426.50" y2="67.53" stroke-width="2.3"/><line x1="351.11" y1="244.0" x2="351.11" y2="239.80" stroke-width="2.4"/><line x1="351.11" y1="9.5" x2="351.11" y2="13.70" stroke-width="2.4"/><line x1="49.5" y1="55.90" x2="53.70" y2="55.90" stroke-width="2.4"/><line x1="429.4" y1="55.90" x2="425.20" y2="55.90" stroke-width="2.4"/><line x1="369.76" y1="244.0" x2="369.76" y2="241.10" stroke-width="2.3"/><line x1="369.76" y1="9.5" x2="369.76" y2="12.40" stroke-width="2.3"/><line x1="49.5" y1="44.28" x2="52.40" y2="44.28" stroke-width="2.3"/><line x1="429.4" y1="44.28" x2="426.50" y2="44.28" stroke-width="2.3"/><line x1="388.40" y1="244.0" x2="388.40" y2="241.10" stroke-width="2.3"/><line x1="388.40" y1="9.5" x2="388.40" y2="12.40" stroke-width="2.3"/><line x1="49.5" y1="32.65" x2="52.40" y2="32.65" stroke-width="2.3"/><line x1="429.4" y1="32.65" x2="426.50" y2="32.65" stroke-width="2.3"/><line x1="407.05" y1="244.0" x2="407.05" y2="241.10" stroke-width="2.3"/><line x1="407.05" y1="9.5" x2="407.05" y2="12.40" stroke-width="2.3"/><line x1="49.5" y1="21.03" x2="52.40" y2="21.03" stroke-width="2.3"/><line x1="429.4" y1="21.03" x2="426.50" y2="21.03" stroke-width="2.3"/><line x1="425.70" y1="244.0" x2="425.70" y2="239.80" stroke-width="2.4"/><line x1="425.70" y1="9.5" x2="425.70" y2="13.70" stroke-width="2.4"/><line x1="49.5" y1="9.40" x2="53.70" y2="9.40" stroke-width="2.4"/><line x1="429.4" y1="9.40" x2="425.20" y2="9.40" stroke-width="2.4"/></g>
<rect x="49.5" y="9.5" width="379.90" height="234.50" fill="none" stroke="#000" stroke-width="3"/>
<g><text x="52.75" y="262" text-anchor="middle">0.0</text><text x="127.34" y="262" text-anchor="middle">0.2</text><text x="201.93" y="262" text-anchor="middle">0.4</text><text x="276.52" y="262" text-anchor="middle">0.6</text><text x="351.11" y="262" text-anchor="middle">0.8</text><text x="425.70" y="262" text-anchor="middle">1.0</text><text x="45.5" y="247.00" text-anchor="end">0.0</text><text x="45.5" y="200.50" text-anchor="end">0.2</text><text x="45.5" y="154.00" text-anchor="end">0.4</text><text x="45.5" y="107.50" text-anchor="end">0.6</text><text x="45.5" y="61.00" text-anchor="end">0.8</text><text x="45.5" y="14.50" text-anchor="end">1.0</text></g>
<g><line x1="63" y1="52" x2="112" y2="52" stroke="#000" stroke-width="2"/><text x="120" y="57.4" font-size="14.6"><tspan font-style="italic">κ</tspan>=0.0 GeV<tspan font-size="11.2" dy="-5.7" dx="-0.3">−1</tspan></text><line x1="63" y1="79.4" x2="112" y2="79.4" stroke="#f00" stroke-width="2" stroke-dasharray="6.6 3.2"/><text x="120" y="84.8" font-size="14.6"><tspan font-style="italic">κ</tspan>=0.3 GeV<tspan font-size="11.2" dy="-5.7" dx="-0.3">−1</tspan></text><line x1="63" y1="106.7" x2="112" y2="106.7" stroke="#00f" stroke-width="2" stroke-dasharray="15 10.2"/><text x="120" y="112.1" font-size="14.6"><tspan font-style="italic">κ</tspan>=0.6 GeV<tspan font-size="11.2" dy="-5.7" dx="-0.3">−1</tspan></text></g>
<text x="239.1" y="287.6" font-size="14.6" text-anchor="middle">eB [GeV<tspan font-size="11.3" dy="-5.4">2</tspan><tspan dy="5.4">]</tspan></text>
<text transform="translate(13.6,126.8) rotate(-90)" font-size="14.75" text-anchor="middle"><tspan font-style="italic" font-size="15.3">M</tspan><tspan font-style="italic" font-size="10.8" dy="3.5">q</tspan><tspan dy="-3.5" dx="0.4"> [GeV]</tspan></text>
</svg>
</body></html>
